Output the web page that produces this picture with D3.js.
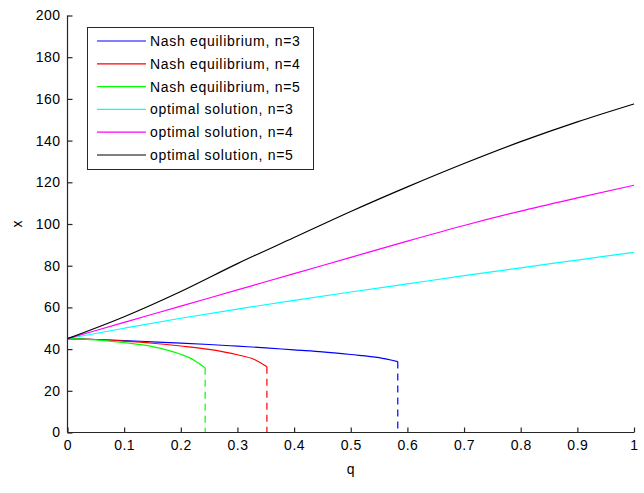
<!DOCTYPE html>
<html>
<head>
<meta charset="utf-8">
<script src="https://cdn.jsdelivr.net/npm/d3@7"></script>
<style>
  body { margin: 0; background: #fff; }
  svg { font-family: Arial, "Liberation Sans", Helvetica, sans-serif; }
</style>
</head>
<body>
<svg width="644" height="493"></svg>
<script>
// values
const nash3 = [[0, 45], [0.05, 44.6], [0.1, 44.1], [0.15, 43.5], [0.2, 42.9], [0.25, 42.2], [0.3, 41.4],
  [0.35, 40.6], [0.4, 39.6], [0.45, 38.7], [0.5, 37.4], [0.55, 35.9], [0.583, 34]];
const nash4 = [[0, 45], [0.05, 44.6], [0.1, 43.8], [0.15, 42.8], [0.2, 41.5], [0.25, 39.9], [0.3, 37.3],
  [0.33, 35], [0.352, 31.5]];
const nash5 = [[0, 45], [0.05, 44.4], [0.1, 43.1], [0.15, 41.2], [0.2, 37.5], [0.22, 35.2], [0.243, 31]];
const opt3 = [[0, 45], [0.1, 50], [0.2, 54.8], [0.3, 59.2], [0.4, 63.4], [0.5, 67.4], [0.6, 71.3],
  [0.7, 75.2], [0.8, 79], [0.9, 82.7], [1, 86.4]];
const opt4 = [[0, 45], [0.1, 52.8], [0.2, 60.6], [0.3, 68.4], [0.4, 76.2], [0.5, 84], [0.6, 91.8],
  [0.7, 99.3], [0.8, 106.2], [0.9, 112.5], [1, 118.6]];
const opt5 = [[0, 45], [0.1, 55.5], [0.2, 67.6], [0.3, 81], [0.4, 93.5], [0.5, 106], [0.6, 117.8],
  [0.7, 129], [0.8, 139.5], [0.9, 149], [1, 157.6]];

const labels = ["Nash equilibrium, n=3", "Nash equilibrium, n=4", "Nash equilibrium, n=5",
  "optimal solution, n=3", "optimal solution, n=4", "optimal solution, n=5"];
const colors = ["#0000ff", "#ff0000", "#00ff00", "#00ffff", "#ff00ff", "#000000"];
const xTicks = [0, 0.1, 0.2, 0.3, 0.4, 0.5, 0.6, 0.7, 0.8, 0.9, 1];
const yTicks = [0, 20, 40, 60, 80, 100, 120, 140, 160, 180, 200];

const series = [nash3, nash4, nash5, opt3, opt4, opt5];

const svg = d3.select("svg");
const plotLeft = 67.5, plotRight = 634, plotTop = 15.5, plotBottom = 432.5;

const xScale = d3.scaleLinear().domain([0, 1]).range([plotLeft, plotRight]);
const yScale = d3.scaleLinear().domain([0, 200]).range([plotBottom, plotTop]);

const line = d3.line()
  .curve(d3.curveMonotoneX)
  .x(d => xScale(d[0]))
  .y(d => yScale(d[1]));
const straight = d3.line()
  .x(d => xScale(d[0]))
  .y(d => yScale(d[1]));

// curves
svg.selectAll(".curve")
  .data(series)
  .enter()
  .append("path")
  .attr("class", "curve")
  .attr("fill", "none")
  .attr("stroke", (d, i) => colors[i])
  .attr("stroke-width", 1.2)
  .attr("d", line);

// dashed drops of the Nash curves down to zero
svg.selectAll(".drop")
  .data(series.slice(0, 3))
  .enter()
  .append("path")
  .attr("class", "drop")
  .attr("fill", "none")
  .attr("stroke", (d, i) => colors[i])
  .attr("stroke-width", 1.2)
  .attr("stroke-dasharray", "7,5")
  .attr("d", d => {
    const last = d[d.length - 1];
    return straight([[last[0], last[1]], [last[0], 0]]);
  });

// axes (MATLAB style: ticks inward, no box)
const xAxis = d3.axisBottom(xScale).tickValues(xTicks).tickSize(-5).tickPadding(8)
  .tickFormat(d => d3.format("")(d));
const yAxis = d3.axisLeft(yScale).tickValues(yTicks).tickSize(-5).tickPadding(7);

const gx = svg.append("g")
  .attr("transform", `translate(0,${plotBottom})`)
  .call(xAxis);
const gy = svg.append("g")
  .attr("transform", `translate(${plotLeft},0)`)
  .call(yAxis);

[gx, gy].forEach(g => {
  g.select(".domain").attr("stroke", "#262626").attr("stroke-width", 1.2);
  g.selectAll(".tick line").attr("stroke", "#262626").attr("stroke-width", 1.2);
  g.selectAll(".tick text").attr("fill", "#000").style("font-size", "14px")
    .style("letter-spacing", "0.5px")
    .style("font-family", "Arial, 'Liberation Sans', sans-serif");
});
gx.select(".domain").attr("d", `M${plotLeft},0H${plotRight}`);
gy.select(".domain").attr("d", `M0,${plotBottom}V${plotTop}`);

// axis labels
svg.append("text")
  .attr("x", (plotLeft + plotRight) / 2)
  .attr("y", 474)
  .attr("text-anchor", "middle")
  .style("font-size", "14px")
  .text("q");
svg.append("text")
  .attr("transform", `translate(22,${(plotTop + plotBottom) / 2}) rotate(-90)`)
  .attr("text-anchor", "middle")
  .style("font-size", "14px")
  .text("x");

// legend
const legend = svg.append("g");
legend.append("rect")
  .attr("x", 87.5).attr("y", 27.5)
  .attr("width", 226).attr("height", 142)
  .attr("fill", "#fff")
  .attr("stroke", "#262626")
  .attr("stroke-width", 1);

const rows = legend.selectAll(".row")
  .data(labels)
  .enter()
  .append("g")
  .attr("class", "row")
  .attr("transform", (d, i) => `translate(0,${41 + i * 22.8})`);
rows.append("line")
  .attr("x1", 97).attr("x2", 146)
  .attr("y1", 0).attr("y2", 0)
  .attr("stroke", (d, i) => colors[i])
  .attr("stroke-width", 1.2);
rows.append("text")
  .attr("x", 150)
  .attr("y", 5)
  .style("font-size", "14px")
  .style("letter-spacing", "0.7px")
  .text(d => d);
</script>
</body>
</html>
